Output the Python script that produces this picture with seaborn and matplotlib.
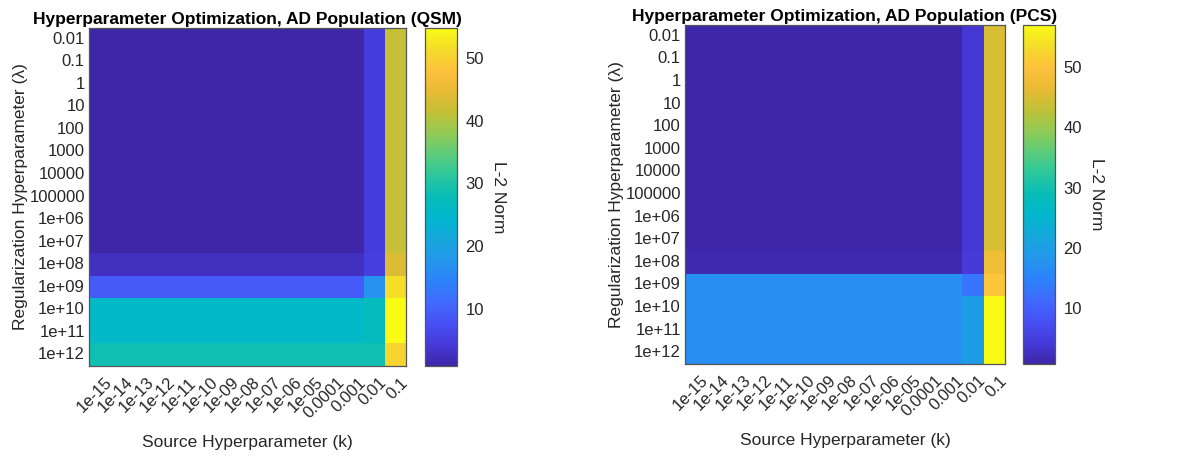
import numpy as np
import pandas as pd
import matplotlib
matplotlib.use("Agg")
import matplotlib.pyplot as plt
import matplotlib.transforms as mtransforms
import seaborn as sns
from matplotlib.colors import LinearSegmentedColormap

# Axis categories
source_k = ["1e-15", "1e-14", "1e-13", "1e-12", "1e-11", "1e-10", "1e-09",
            "1e-08", "1e-07", "1e-06", "1e-05", "0.0001", "0.001", "0.01", "0.1"]
reg_lambda = ["0.01", "0.1", "1", "10", "100", "1000", "10000", "100000",
              "1e+06", "1e+07", "1e+08", "1e+09", "1e+10", "1e+11", "1e+12"]

# L-2 norm, rows = regularization lambda, columns = source k
qsm_norm = [
    [1.0, 1.0, 1.0, 1.0, 1.0, 1.0, 1.0, 1.0, 1.0, 1.0, 1.0, 1.0, 1.0, 4.6, 41.6],
    [1.0, 1.0, 1.0, 1.0, 1.0, 1.0, 1.0, 1.0, 1.0, 1.0, 1.0, 1.0, 1.0, 4.6, 41.6],
    [1.0, 1.0, 1.0, 1.0, 1.0, 1.0, 1.0, 1.0, 1.0, 1.0, 1.0, 1.0, 1.0, 4.6, 41.6],
    [1.0, 1.0, 1.0, 1.0, 1.0, 1.0, 1.0, 1.0, 1.0, 1.0, 1.0, 1.0, 1.0, 4.6, 41.6],
    [1.0, 1.0, 1.0, 1.0, 1.0, 1.0, 1.0, 1.0, 1.0, 1.0, 1.0, 1.0, 1.0, 4.6, 41.6],
    [1.0, 1.0, 1.0, 1.0, 1.0, 1.0, 1.0, 1.0, 1.0, 1.0, 1.0, 1.0, 1.0, 4.6, 41.6],
    [1.0, 1.0, 1.0, 1.0, 1.0, 1.0, 1.0, 1.0, 1.0, 1.0, 1.0, 1.0, 1.0, 4.6, 41.6],
    [1.0, 1.0, 1.0, 1.0, 1.0, 1.0, 1.0, 1.0, 1.0, 1.0, 1.0, 1.0, 1.0, 4.6, 41.6],
    [1.0, 1.0, 1.0, 1.0, 1.0, 1.0, 1.0, 1.0, 1.0, 1.0, 1.0, 1.0, 1.0, 4.6, 41.6],
    [1.0, 1.0, 1.0, 1.0, 1.0, 1.0, 1.0, 1.0, 1.0, 1.0, 1.0, 1.0, 1.0, 4.6, 41.6],
    [2.8, 2.8, 2.8, 2.8, 2.8, 2.8, 2.8, 2.8, 2.8, 2.8, 2.8, 2.8, 2.8, 5.0, 43.5],
    [9.0, 9.0, 9.0, 9.0, 9.0, 9.0, 9.0, 9.0, 9.0, 9.0, 9.0, 9.0, 9.0, 17.0, 51.5],
    [25.5, 25.5, 25.5, 25.5, 25.5, 25.5, 25.5, 25.5, 25.5, 25.5, 25.5, 25.5, 25.5, 27.0, 54.7],
    [25.5, 25.5, 25.5, 25.5, 25.5, 25.5, 25.5, 25.5, 25.5, 25.5, 25.5, 25.5, 25.5, 27.0, 54.7],
    [28.5, 28.5, 28.5, 28.5, 28.5, 28.5, 28.5, 28.5, 28.5, 28.5, 28.5, 28.5, 28.5, 28.5, 50.5],
]

pcs_norm = [
    [0.8, 0.8, 0.8, 0.8, 0.8, 0.8, 0.8, 0.8, 0.8, 0.8, 0.8, 0.8, 0.8, 4.0, 45.0],
    [0.8, 0.8, 0.8, 0.8, 0.8, 0.8, 0.8, 0.8, 0.8, 0.8, 0.8, 0.8, 0.8, 4.0, 45.0],
    [0.8, 0.8, 0.8, 0.8, 0.8, 0.8, 0.8, 0.8, 0.8, 0.8, 0.8, 0.8, 0.8, 4.0, 45.0],
    [0.8, 0.8, 0.8, 0.8, 0.8, 0.8, 0.8, 0.8, 0.8, 0.8, 0.8, 0.8, 0.8, 4.0, 45.0],
    [0.8, 0.8, 0.8, 0.8, 0.8, 0.8, 0.8, 0.8, 0.8, 0.8, 0.8, 0.8, 0.8, 4.0, 45.0],
    [0.8, 0.8, 0.8, 0.8, 0.8, 0.8, 0.8, 0.8, 0.8, 0.8, 0.8, 0.8, 0.8, 4.0, 45.0],
    [0.8, 0.8, 0.8, 0.8, 0.8, 0.8, 0.8, 0.8, 0.8, 0.8, 0.8, 0.8, 0.8, 4.0, 45.0],
    [0.8, 0.8, 0.8, 0.8, 0.8, 0.8, 0.8, 0.8, 0.8, 0.8, 0.8, 0.8, 0.8, 4.0, 45.0],
    [0.8, 0.8, 0.8, 0.8, 0.8, 0.8, 0.8, 0.8, 0.8, 0.8, 0.8, 0.8, 0.8, 4.0, 45.0],
    [0.8, 0.8, 0.8, 0.8, 0.8, 0.8, 0.8, 0.8, 0.8, 0.8, 0.8, 0.8, 0.8, 4.0, 45.0],
    [1.3, 1.3, 1.3, 1.3, 1.3, 1.3, 1.3, 1.3, 1.3, 1.3, 1.3, 1.3, 1.3, 4.4, 47.5],
    [17.0, 17.0, 17.0, 17.0, 17.0, 17.0, 17.0, 17.0, 17.0, 17.0, 17.0, 17.0, 17.0, 13.0, 50.5],
    [17.0, 17.0, 17.0, 17.0, 17.0, 17.0, 17.0, 17.0, 17.0, 17.0, 17.0, 17.0, 17.0, 19.5, 56.9],
    [17.0, 17.0, 17.0, 17.0, 17.0, 17.0, 17.0, 17.0, 17.0, 17.0, 17.0, 17.0, 17.0, 19.5, 56.9],
    [17.0, 17.0, 17.0, 17.0, 17.0, 17.0, 17.0, 17.0, 17.0, 17.0, 17.0, 17.0, 17.0, 19.5, 56.9],
]

panel_titles = ["Hyperparameter Optimization, AD Population (QSM)",
                "Hyperparameter Optimization, AD Population (PCS)"]
cbar_ticks = [10, 20, 30, 40, 50]

# Parula-style colormap
parula_anchors = [
    (0.000, (0.2422, 0.1504, 0.6603)),
    (0.063, (0.2739, 0.2266, 0.8507)),
    (0.125, (0.2803, 0.3137, 0.9563)),
    (0.188, (0.2526, 0.4158, 0.9946)),
    (0.250, (0.1707, 0.5112, 0.9808)),
    (0.313, (0.1412, 0.5911, 0.9234)),
    (0.375, (0.0862, 0.6549, 0.8608)),
    (0.438, (0.0050, 0.7147, 0.8043)),
    (0.500, (0.0265, 0.7398, 0.7215)),
    (0.563, (0.1664, 0.7809, 0.6169)),
    (0.625, (0.3598, 0.7991, 0.4867)),
    (0.688, (0.5704, 0.7925, 0.3360)),
    (0.750, (0.7555, 0.7555, 0.2140)),
    (0.813, (0.9124, 0.7294, 0.2063)),
    (0.875, (0.9929, 0.7574, 0.2365)),
    (0.938, (0.9553, 0.8627, 0.1630)),
    (1.000, (0.9769, 0.9839, 0.0805)),
]
parula = LinearSegmentedColormap.from_list("parula", parula_anchors, N=256)

sns.set_theme(style="white")
plt.rcParams["font.family"] = ["Liberation Sans", "DejaVu Sans"]
TXT = "#262626"
TICK_FS = 12

fig = plt.figure(figsize=(11.84, 4.57), dpi=100)
W, H = 1184, 457

def fig_rect(left, top, right, bottom):
    return [left / W, (H - bottom) / H, (right - left) / W, (bottom - top) / H]

layout = [
    (fig_rect(89, 28, 406, 366), fig_rect(425, 28, 457, 366)),
    (fig_rect(685, 25, 1005, 364), fig_rect(1023, 25, 1055, 364)),
]

for data, title, (ax_rect, cax_rect) in zip([qsm_norm, pcs_norm], panel_titles, layout):
    ax = fig.add_axes(ax_rect)
    cax = fig.add_axes(cax_rect)
    df = pd.DataFrame(data, index=reg_lambda, columns=source_k)
    sns.heatmap(df, ax=ax, cbar_ax=cax, cmap=parula,
                xticklabels=source_k, yticklabels=reg_lambda)

    for s in ax.spines.values():
        s.set_visible(True)
        s.set_color("#555555")
        s.set_linewidth(0.9)
    ax.tick_params(axis="both", direction="in", length=4, width=0.8,
                   color=TXT, labelcolor=TXT,
                   top=True, right=True, bottom=True, left=True,
                   labeltop=False, labelright=False, pad=3)
    ax.set_yticklabels(reg_lambda, rotation=0, fontsize=TICK_FS, color=TXT)
    ax.set_xticklabels(source_k, rotation=45, ha="right", va="center",
                       rotation_mode="anchor", fontsize=TICK_FS, color=TXT)
    shift = mtransforms.ScaledTranslation(10 / 100, -10 / 100, fig.dpi_scale_trans)
    for lab in ax.get_xticklabels():
        lab.set_transform(lab.get_transform() + shift)

    ax.set_title(title, fontsize=12.5, fontweight="bold", color="black", pad=3)
    ax.set_xlabel("Source Hyperparameter (k)", fontsize=12.5, color=TXT, labelpad=10)
    ax.set_ylabel("Regularization Hyperparameter (λ)", fontsize=12.5, color=TXT, labelpad=1)

    cb = ax.collections[0].colorbar
    cb.outline.set_visible(True)
    cb.outline.set_linewidth(0.9)
    cb.outline.set_edgecolor("#555555")
    cb.set_ticks(cbar_ticks)
    cax.tick_params(direction="in", length=4, width=0.8, color=TXT,
                    labelcolor=TXT, labelsize=12, right=True, left=False, pad=6)
    cb.set_label("L-2 Norm", rotation=270, fontsize=12.5, color=TXT, labelpad=16)

fig.savefig("out.png", dpi=100)
